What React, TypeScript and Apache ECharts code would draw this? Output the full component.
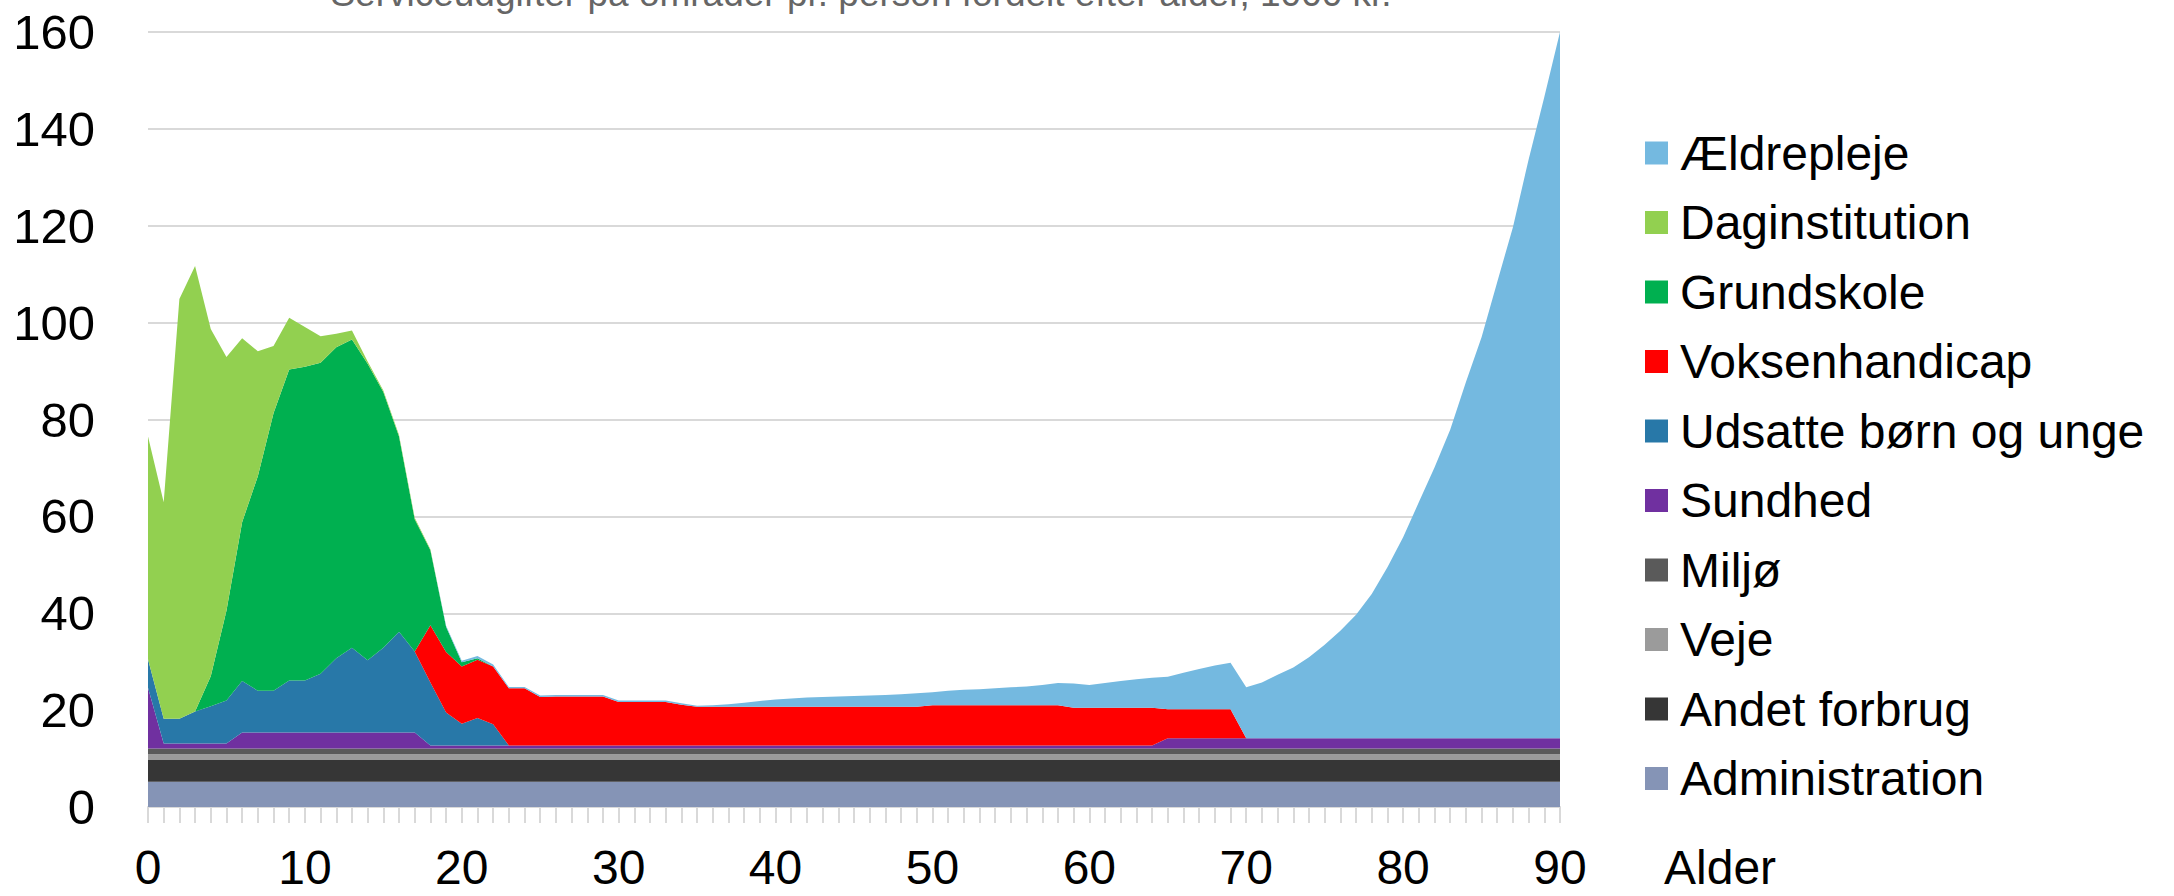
import React, { useEffect, useRef } from 'react';
import * as echarts from 'echarts';

const ages = [
  '0','1','2','3','4','5','6','7','8','9',
  '10','11','12','13','14','15','16','17','18','19',
  '20','21','22','23','24','25','26','27','28','29',
  '30','31','32','33','34','35','36','37','38','39',
  '40','41','42','43','44','45','46','47','48','49',
  '50','51','52','53','54','55','56','57','58','59',
  '60','61','62','63','64','65','66','67','68','69',
  '70','71','72','73','74','75','76','77','78','79',
  '80','81','82','83','84','85','86','87','88','89',
  '90'
];

const yTicks = [0, 20, 40, 60, 80, 100, 120, 140, 160];

const administration = [
  5.2,5.2,5.2,5.2,5.2,5.2,5.2,5.2,5.2,5.2,
  5.2,5.2,5.2,5.2,5.2,5.2,5.2,5.2,5.2,5.2,
  5.2,5.2,5.2,5.2,5.2,5.2,5.2,5.2,5.2,5.2,
  5.2,5.2,5.2,5.2,5.2,5.2,5.2,5.2,5.2,5.2,
  5.2,5.2,5.2,5.2,5.2,5.2,5.2,5.2,5.2,5.2,
  5.2,5.2,5.2,5.2,5.2,5.2,5.2,5.2,5.2,5.2,
  5.2,5.2,5.2,5.2,5.2,5.2,5.2,5.2,5.2,5.2,
  5.2,5.2,5.2,5.2,5.2,5.2,5.2,5.2,5.2,5.2,
  5.2,5.2,5.2,5.2,5.2,5.2,5.2,5.2,5.2,5.2,
  5.2
];

const andetForbrug = [
  4.5,4.5,4.5,4.5,4.5,4.5,4.5,4.5,4.5,4.5,
  4.5,4.5,4.5,4.5,4.5,4.5,4.5,4.5,4.5,4.5,
  4.5,4.5,4.5,4.5,4.5,4.5,4.5,4.5,4.5,4.5,
  4.5,4.5,4.5,4.5,4.5,4.5,4.5,4.5,4.5,4.5,
  4.5,4.5,4.5,4.5,4.5,4.5,4.5,4.5,4.5,4.5,
  4.5,4.5,4.5,4.5,4.5,4.5,4.5,4.5,4.5,4.5,
  4.5,4.5,4.5,4.5,4.5,4.5,4.5,4.5,4.5,4.5,
  4.5,4.5,4.5,4.5,4.5,4.5,4.5,4.5,4.5,4.5,
  4.5,4.5,4.5,4.5,4.5,4.5,4.5,4.5,4.5,4.5,
  4.5
];

const veje = [
  1.2,1.2,1.2,1.2,1.2,1.2,1.2,1.2,1.2,1.2,
  1.2,1.2,1.2,1.2,1.2,1.2,1.2,1.2,1.2,1.2,
  1.2,1.2,1.2,1.2,1.2,1.2,1.2,1.2,1.2,1.2,
  1.2,1.2,1.2,1.2,1.2,1.2,1.2,1.2,1.2,1.2,
  1.2,1.2,1.2,1.2,1.2,1.2,1.2,1.2,1.2,1.2,
  1.2,1.2,1.2,1.2,1.2,1.2,1.2,1.2,1.2,1.2,
  1.2,1.2,1.2,1.2,1.2,1.2,1.2,1.2,1.2,1.2,
  1.2,1.2,1.2,1.2,1.2,1.2,1.2,1.2,1.2,1.2,
  1.2,1.2,1.2,1.2,1.2,1.2,1.2,1.2,1.2,1.2,
  1.2
];

const miljo = [
  1.2,1.2,1.2,1.2,1.2,1.2,1.2,1.2,1.2,1.2,
  1.2,1.2,1.2,1.2,1.2,1.2,1.2,1.2,1.2,1.2,
  1.2,1.2,1.2,1.2,1.2,1.2,1.2,1.2,1.2,1.2,
  1.2,1.2,1.2,1.2,1.2,1.2,1.2,1.2,1.2,1.2,
  1.2,1.2,1.2,1.2,1.2,1.2,1.2,1.2,1.2,1.2,
  1.2,1.2,1.2,1.2,1.2,1.2,1.2,1.2,1.2,1.2,
  1.2,1.2,1.2,1.2,1.2,1.2,1.2,1.2,1.2,1.2,
  1.2,1.2,1.2,1.2,1.2,1.2,1.2,1.2,1.2,1.2,
  1.2,1.2,1.2,1.2,1.2,1.2,1.2,1.2,1.2,1.2,
  1.2
];

const sundhed = [
  12.5,1.0,1.0,1.0,1.0,1.0,3.3,3.3,3.3,3.3,
  3.3,3.3,3.3,3.3,3.3,3.3,3.3,3.3,0.6,0.6,
  0.6,0.6,0.6,0.6,0.6,0.6,0.6,0.6,0.6,0.6,
  0.6,0.6,0.6,0.6,0.6,0.6,0.6,0.6,0.6,0.6,
  0.6,0.6,0.6,0.6,0.6,0.6,0.6,0.6,0.6,0.6,
  0.6,0.6,0.6,0.6,0.6,0.6,0.6,0.6,0.6,0.6,
  0.6,0.6,0.6,0.6,0.6,2.1,2.1,2.1,2.1,2.1,
  2.1,2.1,2.1,2.1,2.1,2.1,2.1,2.1,2.1,2.1,
  2.1,2.1,2.1,2.1,2.1,2.1,2.1,2.1,2.1,2.1,
  2.1
];

const udsatte = [
  5.9,5.1,5.1,6.6,7.7,8.9,10.6,8.6,8.6,10.7,
  10.7,12.1,15.3,17.5,14.9,17.5,20.8,16.7,13.0,6.8,
  4.5,5.7,4.4,0,0,0,0,0,0,0,
  0,0,0,0,0,0,0,0,0,0,
  0,0,0,0,0,0,0,0,0,0,
  0,0,0,0,0,0,0,0,0,0,
  0,0,0,0,0,0,0,0,0,0,
  0,0,0,0,0,0,0,0,0,0,
  0,0,0,0,0,0,0,0,0,0,
  0
];

const voksenhandicap = [
  0,0,0,0,0,0,0,0,0,0,
  0,0,0,0,0,0,0,0,11.8,12.5,
  11.8,12.0,11.9,11.8,11.8,10.0,10.1,10.1,10.1,10.1,
  9.0,9.0,9.0,9.0,8.4,8.0,8.0,8.0,8.0,8.0,
  8.0,8.0,8.0,8.0,8.0,8.0,8.0,8.0,8.0,8.0,
  8.3,8.3,8.3,8.3,8.3,8.3,8.3,8.3,8.3,7.8,
  7.8,7.8,7.8,7.8,7.8,6.0,6.0,6.0,6.0,6.0,
  0,0,0,0,0,0,0,0,0,0,
  0,0,0,0,0,0,0,0,0,0,
  0
];

const grundskole = [
  0,0,0,0,6.2,18.5,32.8,44.3,57.3,64.2,
  64.8,64.2,64.2,63.6,61.2,52.8,40.3,27.3,15.5,5.2,
  0.9,0.3,0,0,0,0,0,0,0,0,
  0,0,0,0,0,0,0,0,0,0,
  0,0,0,0,0,0,0,0,0,0,
  0,0,0,0,0,0,0,0,0,0,
  0,0,0,0,0,0,0,0,0,0,
  0,0,0,0,0,0,0,0,0,0,
  0,0,0,0,0,0,0,0,0,0,
  0
];

const daginstitution = [
  46.0,44.7,86.7,92.0,71.7,52.4,38.0,25.8,13.9,10.7,
  8.2,5.5,2.8,1.9,0.5,0.3,0.3,0.3,0.2,0,
  0,0,0,0,0,0,0,0,0,0,
  0,0,0,0,0,0,0,0,0,0,
  0,0,0,0,0,0,0,0,0,0,
  0,0,0,0,0,0,0,0,0,0,
  0,0,0,0,0,0,0,0,0,0,
  0,0,0,0,0,0,0,0,0,0,
  0,0,0,0,0,0,0,0,0,0,
  0
];

const aeldrepleje = [
  0,0,0,0,0,0,0,0,0,0,
  0,0,0,0,0,0,0,0,0,0.2,
  0.3,0.5,0.4,0.3,0.3,0.3,0.3,0.3,0.3,0.3,
  0.3,0.3,0.3,0.3,0.3,0.2,0.3,0.5,0.8,1.2,
  1.5,1.7,1.9,2.0,2.1,2.2,2.3,2.4,2.6,2.8,
  2.7,3.0,3.2,3.3,3.5,3.7,3.9,4.2,4.6,5.0,
  4.7,5.1,5.5,5.9,6.2,6.7,7.5,8.3,9.0,9.6,
  10.5,11.5,13.1,14.6,16.7,19.3,22.2,25.5,29.8,35.3,
  41.5,48.7,55.9,63.7,73.5,82.8,94.2,105.5,119.5,132.4,
  145.8
];

const seriesDefs = [
  { name: 'Administration', data: administration, color: '#8594b6' },
  { name: 'Andet forbrug', data: andetForbrug, color: '#363636' },
  { name: 'Veje', data: veje, color: '#9b9b9b' },
  { name: 'Miljø', data: miljo, color: '#5a5a5a' },
  { name: 'Sundhed', data: sundhed, color: '#7030a0' },
  { name: 'Udsatte børn og unge', data: udsatte, color: '#2878a8' },
  { name: 'Voksenhandicap', data: voksenhandicap, color: '#ff0000' },
  { name: 'Grundskole', data: grundskole, color: '#00b050' },
  { name: 'Daginstitution', data: daginstitution, color: '#92d050' },
  { name: 'Ældrepleje', data: aeldrepleje, color: '#74b9e0' },
];

const legendOrder = [
  'Ældrepleje', 'Daginstitution', 'Grundskole', 'Voksenhandicap',
  'Udsatte børn og unge', 'Sundhed', 'Miljø', 'Veje', 'Andet forbrug', 'Administration'
];

const titleText = 'Serviceudgifter på områder pr. person fordelt efter alder, 1000 kr.';
const xName = 'Alder';

const FONT = '"Liberation Sans", Arial, Helvetica, sans-serif';

export default function App() {
  const ref = useRef<HTMLDivElement>(null);

  useEffect(() => {
    if (!ref.current) return;
    const chart = echarts.init(ref.current, null, { renderer: 'svg' });
    const option: any = {
      animation: false,
      backgroundColor: '#ffffff',
      textStyle: { fontFamily: FONT },
      graphic: [
        {
          type: 'text',
          x: 861,
          y: -7,
          silent: true,
          style: {
            text: titleText,
            x: 0,
            y: 0,
            fill: '#666666',
            font: '37px "Liberation Sans", Arial, sans-serif',
            textAlign: 'center',
            textVerticalAlign: 'middle',
          },
        },
      ],
      grid: { left: 148, right: 614, top: 32, bottom: 89, containLabel: false },
      legend: {
        orient: 'vertical',
        left: 1640,
        top: 124,
        icon: 'rect',
        itemWidth: 23,
        itemHeight: 23,
        itemGap: 21.5,
        data: legendOrder,
        selectedMode: false,
        textStyle: { fontSize: 48, color: '#000000', fontFamily: FONT, padding: [0, 0, 0, 7] },
      },
      xAxis: {
        type: 'category',
        data: ages,
        boundaryGap: false,
        name: xName,
        nameLocation: 'end',
        nameGap: 104,
        nameTextStyle: {
          fontSize: 48,
          lineHeight: 40,
          color: '#000000',
          fontFamily: FONT,
          align: 'left',
          verticalAlign: 'top',
          padding: [40, 0, 0, 0],
        },
        axisLine: { show: true, lineStyle: { color: '#d9d9d9', width: 2 } },
        axisTick: { show: true, interval: 0, length: 16, lineStyle: { color: '#d9d9d9', width: 2 } },
        axisLabel: { interval: 9, fontSize: 48, lineHeight: 40, color: '#000000', margin: 40, fontFamily: FONT },
        splitLine: { show: false },
      },
      yAxis: {
        type: 'value',
        min: yTicks[0],
        max: yTicks[yTicks.length - 1],
        interval: yTicks[1] - yTicks[0],
        axisLine: { show: false },
        axisTick: { show: false },
        axisLabel: { fontSize: 49, color: '#000000', margin: 53, fontFamily: FONT },
        splitLine: { show: true, lineStyle: { color: '#d9d9d9', width: 2 } },
      },
      series: seriesDefs.map((s) => ({
        name: s.name,
        type: 'line',
        stack: 'total',
        data: s.data,
        symbol: 'none',
        showSymbol: false,
        smooth: false,
        lineStyle: { width: 0, opacity: 0 },
        itemStyle: { color: s.color },
        areaStyle: { color: s.color, opacity: 1 },
        emphasis: { disabled: true },
        silent: true,
      })),
    };
    chart.setOption(option);
    return () => chart.dispose();
  }, []);

  return (
    <div
      ref={ref}
      style={{ position: 'fixed', left: 0, top: 0, width: 2174, height: 896 }}
    />
  );
}
